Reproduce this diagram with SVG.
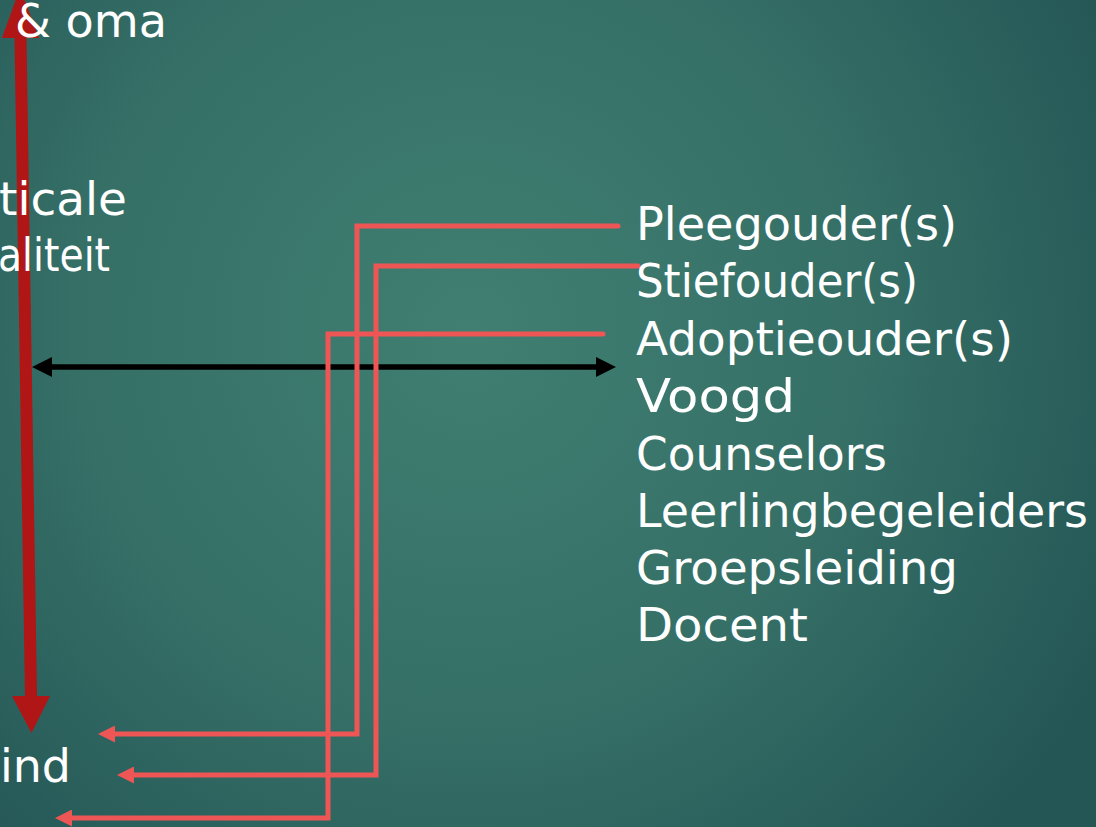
<svg xmlns="http://www.w3.org/2000/svg" width="1096" height="827" viewBox="0 0 1096 827">
<style>
.t{font-family:"DejaVu Sans","Liberation Sans",sans-serif;font-size:45.5px;fill:#ffffff}
.sal{fill:none;stroke:#EE5656;stroke-width:5;stroke-linejoin:miter;stroke-linecap:round}
.blk{fill:none;stroke:#000000;stroke-width:5.5}
</style>
<defs>
<radialGradient id="bg" gradientUnits="userSpaceOnUse" cx="470" cy="330" r="720">
<stop offset="0" stop-color="#407F72"/>
<stop offset="0.55" stop-color="#356F66"/>
<stop offset="1" stop-color="#245656"/>
</radialGradient>
<marker id="salHead" markerUnits="userSpaceOnUse" markerWidth="17" markerHeight="17" refX="2" refY="8.5" orient="auto" viewBox="0 0 17 17">
<path d="M0,0 L17,8.5 L0,17 z" fill="#EE5656"/>
</marker>
<marker id="blkHead" markerUnits="userSpaceOnUse" markerWidth="20" markerHeight="20" refX="2" refY="10" orient="auto-start-reverse" viewBox="0 0 20 20">
<path d="M0,0 L20,10 L0,20 z" fill="#000000"/>
</marker>
</defs>
<rect x="0" y="0" width="1096" height="827" fill="url(#bg)"/>

<g id="verticale-pijl">
<polygon points="20,-12 39,38 26.5,38 37,696 50,696 31.5,733 12,696 25,696 14.5,38 2,38" fill="#B01616"/>
</g>

<g id="connectors">
<path class="blk" d="M50,367 L598,367" marker-start="url(#blkHead)" marker-end="url(#blkHead)"/>
<path class="sal" d="M618,226 L357,226 L357,734 L113,734" marker-end="url(#salHead)"/>
<path class="sal" d="M638,266 L376,266 L376,775 L132,775" marker-end="url(#salHead)"/>
<path class="sal" d="M603,334 L328,334 L328,818 L70,818" marker-end="url(#salHead)"/>
</g>

<g id="opa-oma"><text class="t" x="15" y="37" textLength="152" lengthAdjust="spacingAndGlyphs">&amp; oma</text></g>
<g id="verticale-loyaliteit">
<text class="t" x="-1" y="215" textLength="128" lengthAdjust="spacingAndGlyphs">ticale</text>
<text class="t" x="-2" y="271" textLength="112" lengthAdjust="spacingAndGlyphs">aliteit</text>
</g>
<g id="kind"><text class="t" x="0" y="782" textLength="71" lengthAdjust="spacingAndGlyphs">ind</text></g>

<g id="pleegouders"><text class="t" x="636" y="240" textLength="321" lengthAdjust="spacingAndGlyphs">Pleegouder(s)</text></g>
<g id="stiefouders"><text class="t" x="636" y="297" textLength="282" lengthAdjust="spacingAndGlyphs">Stiefouder(s)</text></g>
<g id="adoptieouders"><text class="t" x="636" y="355" textLength="377" lengthAdjust="spacingAndGlyphs">Adoptieouder(s)</text></g>
<g id="voogd"><text class="t" x="636" y="412" textLength="159" lengthAdjust="spacingAndGlyphs">Voogd</text></g>
<g id="counselors"><text class="t" x="636" y="470" textLength="251" lengthAdjust="spacingAndGlyphs">Counselors</text></g>
<g id="leerlingbegeleiders"><text class="t" x="636" y="527" textLength="452" lengthAdjust="spacingAndGlyphs">Leerlingbegeleiders</text></g>
<g id="groepsleiding"><text class="t" x="636" y="584" textLength="322" lengthAdjust="spacingAndGlyphs">Groepsleiding</text></g>
<g id="docent"><text class="t" x="636" y="641" textLength="172" lengthAdjust="spacingAndGlyphs">Docent</text></g>
</svg>
